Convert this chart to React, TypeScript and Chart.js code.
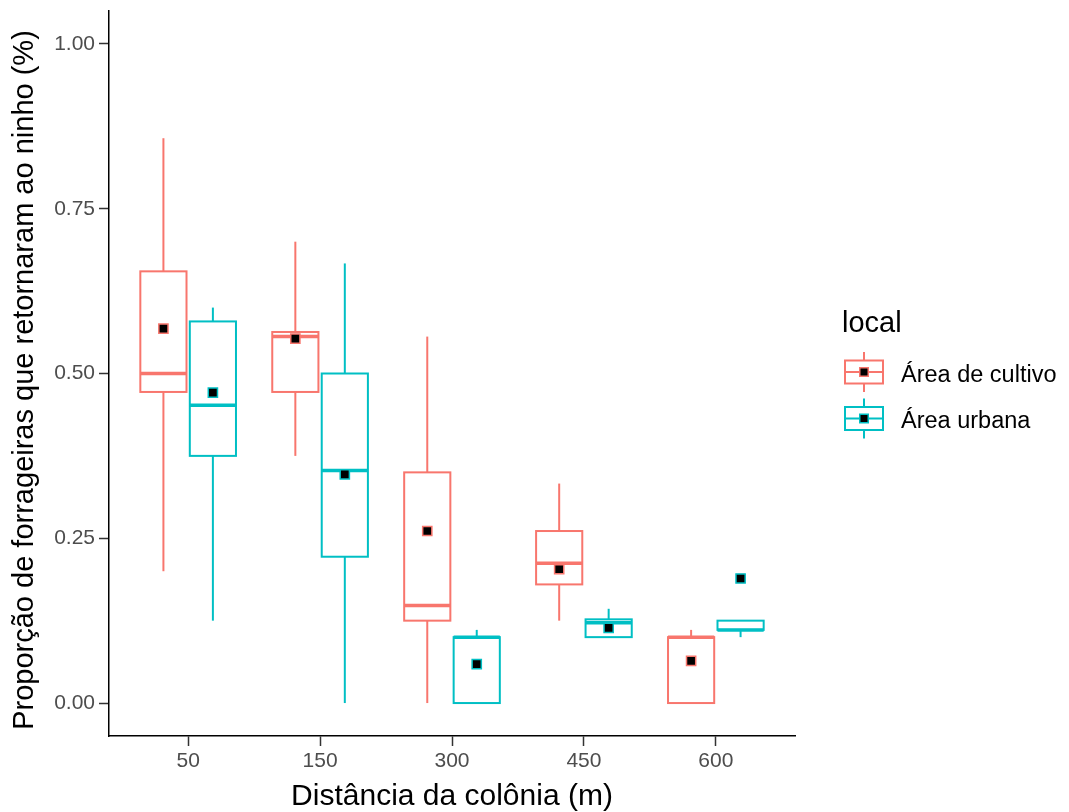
import React, { useEffect, useRef } from 'react';
import { Chart, registerables } from 'chart.js';

Chart.register(...registerables);

// ---- data ----
const categories = ['50', '150', '300', '450', '600'];
const seriesNames = ['Área de cultivo', 'Área urbana'];
const seriesColors = ['#F8766D', '#00BFC4'];

const cultivoLow = [0.2, 0.375, 0.0, 0.125, 0.0];
const cultivoQ1 = [0.472, 0.472, 0.125, 0.18, 0.0];
const cultivoMedian = [0.5, 0.556, 0.148, 0.212, 0.1];
const cultivoQ3 = [0.655, 0.563, 0.35, 0.261, 0.1];
const cultivoHigh = [0.857, 0.7, 0.556, 0.333, 0.111];
const cultivoMean = [0.568, 0.553, 0.261, 0.203, 0.064];

const urbanaLow = [0.125, 0.0, 0.0, 0.1, 0.1];
const urbanaQ1 = [0.375, 0.222, 0.0, 0.1, 0.111];
const urbanaMedian = [0.452, 0.353, 0.1, 0.122, 0.111];
const urbanaQ3 = [0.579, 0.5, 0.1, 0.127, 0.125];
const urbanaHigh = [0.6, 0.667, 0.111, 0.143, 0.125];
const urbanaMean = [0.471, 0.347, 0.059, 0.114, 0.189];

const yTickValues = [0, 0.25, 0.5, 0.75, 1.0];

const xTitle = 'Distância da colônia (m)';
const yTitle = 'Proporção de forrageiras que retornaram ao ninho (%)';
const legendTitle = 'local';

const series = [
  { low: cultivoLow, q1: cultivoQ1, med: cultivoMedian, q3: cultivoQ3, high: cultivoHigh, mean: cultivoMean },
  { low: urbanaLow, q1: urbanaQ1, med: urbanaMedian, q3: urbanaQ3, high: urbanaHigh, mean: urbanaMean },
];

const DODGE = 0.1875;
const BOX_W = 0.35;
const FONT = "'Liberation Sans', Arial, sans-serif";

function line(ctx: CanvasRenderingContext2D, x1: number, y1: number, x2: number, y2: number) {
  ctx.beginPath();
  ctx.moveTo(x1, y1);
  ctx.lineTo(x2, y2);
  ctx.stroke();
}

function drawMean(ctx: CanvasRenderingContext2D, x: number, y: number, color: string) {
  const s = 8.5;
  ctx.fillStyle = '#000';
  ctx.strokeStyle = color;
  ctx.lineWidth = 1.5;
  ctx.beginPath();
  ctx.rect(x - s / 2, y - s / 2, s, s);
  ctx.fill();
  ctx.stroke();
}

const boxPlugin = {
  id: 'boxplots',
  beforeDatasetsDraw(chart: any) {
    const { ctx } = chart;
    const x = chart.scales.x;
    const y = chart.scales.y;
    series.forEach((s, si) => {
      const off = si === 0 ? -DODGE : DODGE;
      const color = seriesColors[si];
      categories.forEach((_, i) => {
        const c = i + 1 + off;
        const xc = x.getPixelForValue(c);
        const xl = x.getPixelForValue(c - BOX_W / 2);
        const xr = x.getPixelForValue(c + BOX_W / 2);
        const pLow = y.getPixelForValue(s.low[i]);
        const pQ1 = y.getPixelForValue(s.q1[i]);
        const pMed = y.getPixelForValue(s.med[i]);
        const pQ3 = y.getPixelForValue(s.q3[i]);
        const pHigh = y.getPixelForValue(s.high[i]);
        ctx.save();
        ctx.strokeStyle = color;
        ctx.lineWidth = 2;
        line(ctx, xc, pHigh, xc, pQ3);
        line(ctx, xc, pQ1, xc, pLow);
        ctx.fillStyle = '#ffffff';
        ctx.fillRect(xl, pQ3, xr - xl, pQ1 - pQ3);
        ctx.strokeRect(xl, pQ3, xr - xl, pQ1 - pQ3);
        ctx.lineWidth = 3.5;
        line(ctx, xl, pMed, xr, pMed);
        ctx.restore();
      });
    });
  },
  afterDraw(chart: any) {
    const { ctx } = chart;
    // y axis title (centred slightly below the panel centre, as in the reference)
    ctx.save();
    ctx.translate(25, 380);
    ctx.rotate(-Math.PI / 2);
    ctx.fillStyle = '#000';
    ctx.textAlign = 'center';
    ctx.textBaseline = 'middle';
    ctx.font = `29px ${FONT}`;
    ctx.fillText(yTitle, 0, 0);
    ctx.restore();

    // legend
    const left = chart.chartArea.right + 47;
    ctx.save();
    ctx.fillStyle = '#000';
    ctx.textBaseline = 'alphabetic';
    ctx.textAlign = 'left';
    ctx.font = `29px ${FONT}`;
    ctx.fillText(legendTitle, left, 332);
    seriesNames.forEach((name, si) => {
      const cy = 372 + si * 46.5;
      const cx = left + 22;
      const color = seriesColors[si];
      ctx.strokeStyle = color;
      ctx.lineWidth = 2;
      line(ctx, cx, cy - 20, cx, cy - 11.5);
      line(ctx, cx, cy + 11.5, cx, cy + 20);
      ctx.strokeRect(cx - 19, cy - 11.5, 38, 23);
      ctx.lineWidth = 2;
      line(ctx, cx - 19, cy, cx + 19, cy);
      drawMean(ctx, cx, cy, color);
      ctx.fillStyle = '#000';
      ctx.font = `23.5px ${FONT}`;
      ctx.fillText(name, left + 59, cy + 9.5);
    });
    ctx.restore();
  },
};

export default function App() {
  const ref = useRef<HTMLCanvasElement | null>(null);

  useEffect(() => {
    document.body.style.margin = '0';
    const canvas = ref.current;
    if (!canvas) return;
    const chart = new Chart(canvas, {
      type: 'scatter',
      data: {
        datasets: series.map((s, si) => ({
          label: seriesNames[si],
          data: s.mean.map((m, i) => ({ x: i + 1 + (si === 0 ? -DODGE : DODGE), y: m })),
          pointStyle: 'rect',
          pointRadius: 6.5,
          pointHoverRadius: 6.5,
          backgroundColor: '#000',
          borderColor: seriesColors[si],
          borderWidth: 1.5,
        })),
      },
      options: {
        animation: false,
        responsive: false,
        devicePixelRatio: 1,
        events: [],
        layout: { padding: { left: 0, top: 11, right: 274, bottom: 0 } },
        plugins: {
          legend: { display: false },
          tooltip: { enabled: false },
        },
        scales: {
          x: {
            type: 'linear',
            min: 0.4,
            max: 5.6,
            afterBuildTicks: (scale: any) => {
              scale.ticks = categories.map((_, i) => ({ value: i + 1 }));
            },
            afterFit: (scale: any) => {
              scale.height = 76;
              scale.paddingLeft = 0;
              scale.paddingRight = 0;
            },
            ticks: {
              autoSkip: false,
              maxRotation: 0,
              padding: 3,
              color: '#4D4D4D',
              font: { family: FONT, size: 21 },
              callback: (v: any) => categories[Number(v) - 1] ?? '',
            },
            grid: {
              drawOnChartArea: false,
              drawTicks: true,
              tickLength: 10,
              tickColor: '#333333',
              tickWidth: 1.5,
            },
            border: { display: true, color: '#000', width: 1.5 },
            title: {
              display: true,
              text: xTitle,
              color: '#000',
              font: { family: FONT, size: 30, lineHeight: 1 },
              padding: { top: 0, bottom: 0 },
            },
          },
          y: {
            type: 'linear',
            min: -0.05,
            max: 1.05,
            afterBuildTicks: (scale: any) => {
              scale.ticks = yTickValues.map((v) => ({ value: v }));
            },
            afterFit: (scale: any) => {
              scale.width = 109;
              scale.paddingTop = 0;
              scale.paddingBottom = 0;
            },
            ticks: {
              padding: 4,
              color: '#4D4D4D',
              font: { family: FONT, size: 21 },
              callback: (v: any) => Number(v).toFixed(2),
            },
            grid: {
              drawOnChartArea: false,
              drawTicks: true,
              tickLength: 10,
              tickColor: '#333333',
              tickWidth: 1.5,
            },
            border: { display: true, color: '#000', width: 1.5 },
            title: { display: false },
          },
        },
      },
      plugins: [boxPlugin],
    });
    return () => chart.destroy();
  }, []);

  return (
    <div style={{ width: 1069, height: 812 }}>
      <canvas ref={ref} width={1069} height={812} style={{ display: 'block', width: 1069, height: 812 }} />
    </div>
  );
}
